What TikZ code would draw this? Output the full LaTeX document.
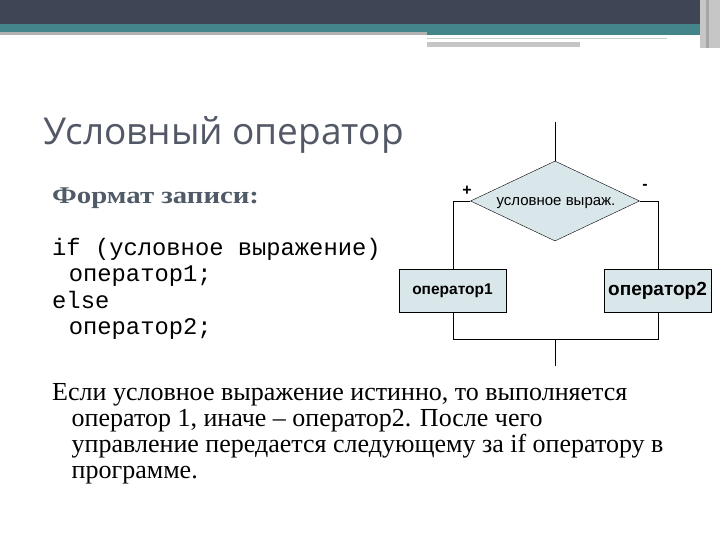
\documentclass[tikz,border=0pt]{standalone}
\usepackage{fontspec}
\setmainfont{Liberation Serif}
\newfontfamily\titlefont{Open Sans}
\newfontfamily\arialf{Liberation Sans}
\newfontfamily\monof{Liberation Mono}
\usetikzlibrary{shapes.geometric}
\definecolor{dark}{HTML}{3F4555}
\definecolor{teal}{HTML}{438589}
\definecolor{fillc}{HTML}{D9E6EA}
\definecolor{hdcol}{HTML}{4F5B66}
\begin{document}
\begin{tikzpicture}[x=1pt,y=-1pt,
  txt/.style={anchor=base west,inner sep=0pt},
  box/.style={draw,fill=fillc,minimum width=107pt,minimum height=43pt,inner sep=0pt},
  ln/.style={draw,line width=0.8pt}]
\useasboundingbox (0,0) rectangle (720,540);
\fill[white] (0,0) rectangle (720,540);
% top bar
\fill[dark] (0,0) rectangle (700,24);
\fill[teal] (0,24) rectangle (700,32);
\fill[teal] (427,32) rectangle (700,35);
\fill[gray!60] (0,32) rectangle (427,35);
\fill[gray!45] (427,42) rectangle (580,47);
\draw[gray!40] (427,38) -- (667,38);
\fill[gray!45] (700,0) rectangle (720,48);
\fill[gray!70] (706,0) rectangle (709,48);
% texts
\node[txt,font=\titlefont\fontsize{37}{42}\selectfont,text=dark!90] (title) at (43,145) {Условный оператор};
\node[txt,font=\bfseries\fontsize{24}{28}\selectfont,text=hdcol] (fmt) at (52,204) {\scalebox{1.2}[1]{Формат записи:}};
\node[inner sep=0pt,anchor=north west,font=\monof\fontsize{23.8}{26.5}\selectfont,align=left] (code) at (52,238)
  {if (условное выражение)\\\hspace*{0.7em}оператор1;\\else\\\hspace*{0.7em}оператор2;};
\node[inner sep=0pt,anchor=north west,font=\fontsize{26}{26}\selectfont,align=left] (body) at (52,383)
  {Если условное выражение истинно, то выполняется\\
  \hspace*{0.75em}оператор 1, иначе – оператор2. После чего\\
  \hspace*{0.75em}управление передается следующему за if оператору в\\
  \hspace*{0.75em}программе.};
% flowchart
\node[diamond,draw,fill=fillc,aspect=2.1,minimum width=169pt,minimum height=80pt,inner sep=0pt] (d) at (555,201) {};
\node[font=\arialf\fontsize{15}{17}\selectfont] (dt) at (556,203) {условное выраж.};
\node[box,font=\arialf\bfseries\fontsize{15.5}{17}\selectfont] (b1) at (452.5,290.5) {оператор1};
\node[box,font=\arialf\bfseries\fontsize{19}{21}\selectfont] (b2) at (657.5,290.5) {оператор2};
\coordinate (top) at (555,122);
\coordinate (bot) at (555,366);
\coordinate (j) at (555,339);
\draw[ln] (top) -- (d.north);
\draw[ln] (d.west) -- (453,201) -- (b1.north -| 453,0);
\draw[ln] (d.east) -- (658,201) -- (b2.north -| 658,0);
\draw[ln] (b1.south -| 453,0) -- (453,339) -- (658,339) -- (b2.south -| 658,0);
\draw[ln] (j) -- (bot);
\node[font=\arialf\bfseries\fontsize{16}{18}\selectfont] (plus) at (467,191) {+};
\node[font=\arialf\bfseries\fontsize{16}{18}\selectfont] (minus) at (645,187) {-};
\end{tikzpicture}
\end{document}
